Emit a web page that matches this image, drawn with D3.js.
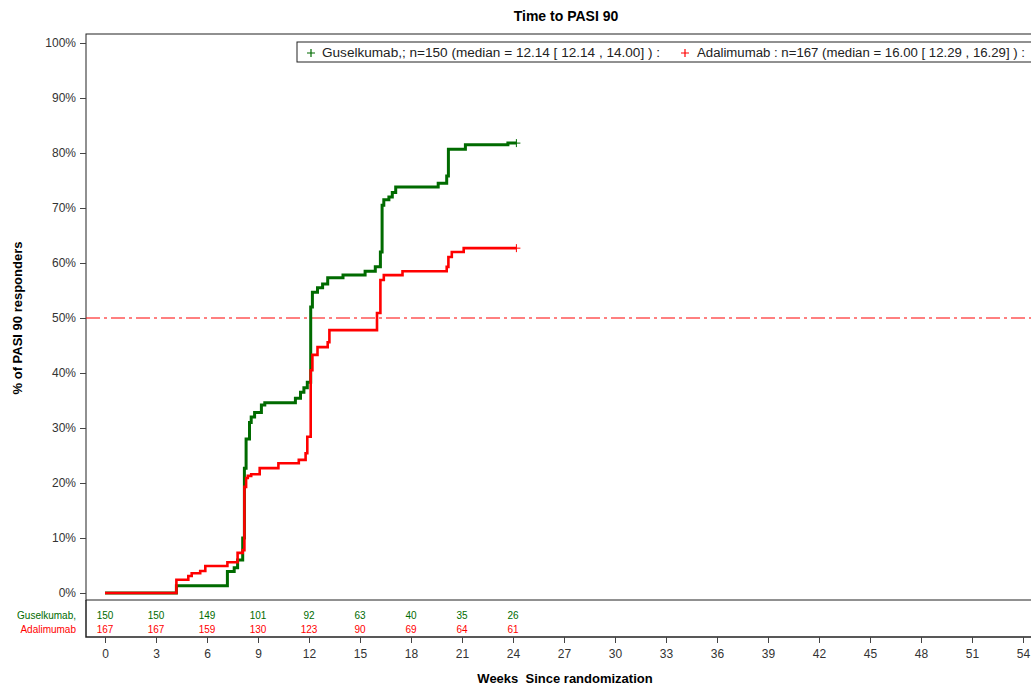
<!DOCTYPE html>
<html>
<head>
<meta charset="utf-8">
<script src="https://cdn.jsdelivr.net/npm/d3@7"></script>
<style>
  body { margin: 0; background: #fff; }
  text { font-family: "Liberation Sans", Arial, sans-serif; }
</style>
</head>
<body>
<div class="chart"></div>
<script>
var width = 1031;
var height = 689;

// step curves: event times (weeks) and cumulative % responders
var gusWeeks = [0, 4.2, 7.2, 7.6, 7.8, 8.1, 8.2, 8.3, 8.5, 8.6, 8.8, 9.2, 9.4, 11.2, 11.5, 11.7, 11.9, 12.1, 12.2, 12.5, 12.8, 13.1, 14.0, 15.3, 15.9, 16.2, 16.3, 16.4, 16.7, 16.9, 17.1, 19.6, 20.1, 20.2, 21.2, 23.7, 24.2];
var gusPct   = [0, 1.3, 3.9, 4.6, 6.0, 10.0, 22.7, 28.0, 31.0, 32.0, 32.8, 34.2, 34.6, 35.4, 36.5, 37.3, 38.3, 52.0, 54.7, 55.5, 56.2, 57.3, 57.8, 58.5, 59.3, 62.0, 70.5, 71.5, 72.0, 72.8, 73.8, 74.5, 75.8, 80.7, 81.5, 81.8, 81.8];

var adaWeeks = [0, 4.2, 4.9, 5.1, 5.6, 5.9, 7.2, 7.8, 8.1, 8.2, 8.3, 8.4, 8.6, 9.1, 10.2, 11.4, 11.8, 11.9, 12.1, 12.2, 12.5, 13.1, 13.2, 16.0, 16.2, 16.4, 17.5, 20.1, 20.2, 20.4, 21.1, 24.2];
var adaPct   = [0, 2.4, 3.1, 3.6, 4.0, 4.9, 5.6, 7.3, 7.8, 19.3, 20.9, 21.3, 21.6, 22.7, 23.6, 24.2, 25.4, 28.4, 40.5, 43.3, 44.7, 45.6, 47.8, 50.9, 56.9, 57.8, 58.5, 59.3, 61.1, 62.0, 62.7, 62.7];

// numbers at risk
var riskWeeks = [0, 3, 6, 9, 12, 15, 18, 21, 24];
var gusRisk = [150, 150, 149, 101, 92, 63, 40, 35, 26];
var adaRisk = [167, 167, 159, 130, 123, 90, 69, 64, 61];

var xTicks = d3.range(0, 55, 3);
var yTicks = d3.range(0, 101, 10);

var gusLabel = "Guselkumab,; n=150 (median = 12.14 [ 12.14 , 14.00] ) :";
var adaLabel = "Adalimumab : n=167 (median = 16.00 [ 12.29 , 16.29] ) :";

var green = "#006b00";
var red = "#ff0000";

var svg = d3.select(".chart").append("svg")
    .attr("width", width)
    .attr("height", height);

var x = d3.scaleLinear().domain([0, 54]).range([105, 1023]);
var y = d3.scaleLinear().domain([0, 100]).range([593, 43]);

var boxLeft = 86, boxTop = 34, boxBottom = 600, boxRight = 1040;
var riskBottom = 637;

// title
svg.append("text")
    .attr("x", 566).attr("y", 21)
    .attr("text-anchor", "middle")
    .attr("font-size", 14).attr("font-weight", "bold")
    .text("Time to PASI 90");

// plot frame
svg.append("rect")
    .attr("x", boxLeft).attr("y", boxTop)
    .attr("width", boxRight - boxLeft).attr("height", boxBottom - boxTop)
    .attr("fill", "none").attr("stroke", "#222").attr("stroke-width", 1);

// at-risk frame
svg.append("path")
    .attr("d", "M" + boxLeft + "," + boxBottom + "V" + riskBottom + "H" + boxRight)
    .attr("fill", "none").attr("stroke", "#222").attr("stroke-width", 1.5);

// y axis
var yAxis = svg.append("g")
    .attr("transform", "translate(" + boxLeft + ",0)")
    .call(d3.axisLeft(y).tickValues(yTicks).tickSize(6).tickPadding(4)
      .tickFormat(function(d) { return d + "%"; }));
yAxis.select(".domain").remove();
yAxis.selectAll("line").attr("stroke", "#444");
yAxis.selectAll("text").attr("font-size", 12).attr("fill", "#333")
    .style("font-family", "'Liberation Sans', Arial, sans-serif");

svg.append("text")
    .attr("transform", "translate(22,318) rotate(-90)")
    .attr("text-anchor", "middle")
    .attr("font-size", 13).attr("font-weight", "bold")
    .text("% of PASI 90 responders");

// x axis
var xAxis = svg.append("g")
    .attr("transform", "translate(0," + riskBottom + ")")
    .call(d3.axisBottom(x).tickValues(xTicks).tickSize(6).tickPadding(6));
xAxis.select(".domain").remove();
xAxis.selectAll("line").attr("stroke", "#444");
xAxis.selectAll("text").attr("font-size", 12).attr("fill", "#333")
    .style("font-family", "'Liberation Sans', Arial, sans-serif");

svg.append("text")
    .attr("x", 565).attr("y", 683)
    .attr("text-anchor", "middle")
    .attr("font-size", 13).attr("font-weight", "bold")
    .attr("xml:space", "preserve")
    .text("Weeks  Since randomization");

// 50% reference line
svg.append("line")
    .attr("x1", boxLeft).attr("x2", boxRight)
    .attr("y1", y(50)).attr("y2", y(50))
    .attr("stroke", red).attr("stroke-width", 1)
    .attr("stroke-dasharray", "14,4,3,4");

// curves
var line = d3.line()
    .x(function(d) { return x(d[0]); })
    .y(function(d) { return y(d[1]); })
    .curve(d3.curveStepAfter);

var series = [
  {weeks: gusWeeks, pct: gusPct, color: green, w: 3},
  {weeks: adaWeeks, pct: adaPct, color: red, w: 2.6}
];

series.forEach(function(s) {
  var pts = s.weeks.map(function(w, i) { return [w, s.pct[i]]; });
  svg.append("path")
      .datum(pts)
      .attr("d", line)
      .attr("fill", "none")
      .attr("stroke", s.color)
      .attr("stroke-width", s.w);
  var last = pts[pts.length - 1];
  var cx = x(last[0]), cy = y(last[1]);
  svg.append("path")
      .attr("d", "M" + (cx - 4) + "," + cy + "H" + (cx + 4) + "M" + cx + "," + (cy - 4) + "V" + (cy + 4))
      .attr("stroke", s.color).attr("stroke-width", 1);
});

// legend
svg.append("rect")
    .attr("x", 297).attr("y", 42)
    .attr("width", 760).attr("height", 20)
    .attr("fill", "#fff").attr("stroke", "#222").attr("stroke-width", 1);

var legendItems = [
  {label: gusLabel, color: green, px: 311, tx: 322, tw: 338},
  {label: adaLabel, color: red, px: 685, tx: 697, tw: 328}
];
legendItems.forEach(function(d) {
  svg.append("path")
      .attr("d", "M" + (d.px - 4) + ",53H" + (d.px + 4) + "M" + d.px + ",49V57")
      .attr("stroke", d.color).attr("stroke-width", 1.2);
  svg.append("text")
      .attr("x", d.tx).attr("y", 57)
      .attr("font-size", 12).attr("fill", "#222")
      .attr("textLength", d.tw).attr("lengthAdjust", "spacingAndGlyphs")
      .text(d.label);
});

// numbers at risk
svg.append("text")
    .attr("x", 76).attr("y", 619)
    .attr("text-anchor", "end").attr("font-size", 10).attr("fill", green)
    .text("Guselkumab,");
svg.append("text")
    .attr("x", 76).attr("y", 633)
    .attr("text-anchor", "end").attr("font-size", 10).attr("fill", red)
    .text("Adalimumab");

svg.append("g").selectAll("text")
    .data(riskWeeks)
    .enter().append("text")
      .attr("x", function(d) { return x(d); })
      .attr("y", 619)
      .attr("text-anchor", "middle").attr("font-size", 10).attr("fill", green)
      .text(function(d, i) { return gusRisk[i]; });

svg.append("g").selectAll("text")
    .data(riskWeeks)
    .enter().append("text")
      .attr("x", function(d) { return x(d); })
      .attr("y", 633)
      .attr("text-anchor", "middle").attr("font-size", 10).attr("fill", red)
      .text(function(d, i) { return adaRisk[i]; });
</script>
</body>
</html>
